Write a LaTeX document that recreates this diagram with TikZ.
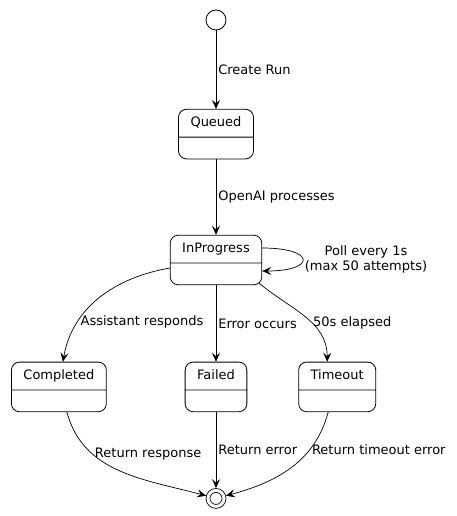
\documentclass[tikz,border=0pt]{standalone}
\usepackage{fontspec}
\setmainfont{DejaVu Sans}
\usetikzlibrary{positioning, arrows.meta, shapes.multipart}
\newcommand{\statefont}{\fontsize{13}{15}\selectfont}
\newcommand{\stname}[1]{\strut #1\nodepart{two}\rule{0pt}{9pt}}
\tikzset{
	statebox/.style={rectangle split, rectangle split parts=2, draw, rounded corners=8pt,
		inner xsep=12pt, inner ysep=6pt, line width=0.8pt, font=\statefont},
	initstate/.style={circle, draw, minimum size=20pt, inner sep=0pt, line width=0.8pt},
	finalstate/.style={circle, draw, double, double distance=3pt, minimum size=16pt,
		inner sep=0pt, outer sep=2.3pt, line width=0.8pt},
	trans/.style={-{Stealth[length=9pt, width=8pt, inset=3.5pt]}, line width=0.7pt},
	translabel/.style={font=\statefont, anchor=west, inner sep=2pt}
}

\begin{document}
\begin{tikzpicture}[node distance=76.5pt]
	\useasboundingbox (0,0) rectangle (457pt,-516pt);
	\node[initstate] (start) at (216pt,-20pt) {};
	\node[statebox, below=78.5pt of start] (queued) {\stname{Queued}};
	\node[statebox, below=75.5pt of queued] (inprogress) {\stname{InProgress}};
	\node[statebox, below=of inprogress] (failed) {\stname{Failed}};
	\node[statebox, left=78pt of failed] (completed) {\stname{Completed}};
	\node[statebox, right=51pt of failed] (timeout) {\stname{Timeout}};
	\node[finalstate, below=76pt of failed] (end) {};
	\draw[trans] (start) -- node[translabel] {Create Run} (queued);
	\draw[trans] (queued) -- node[translabel] {OpenAI processes} (inprogress);
	\draw[trans] ([yshift=12pt]inprogress.east) to[out=0, in=0, looseness=6]
		node[translabel, align=center] {Poll every 1s\\(max 50 attempts)} ([yshift=-11pt]inprogress.east);
	\draw[trans] ([yshift=-8pt]inprogress.west) to[out=190, in=80]
		node[translabel, pos=0.72] {Assistant responds} ([xshift=4pt]completed.north);
	\draw[trans] (inprogress) -- node[translabel] {Error occurs} (failed);
	\draw[trans] ([shift={(-3pt,2pt)}]inprogress.south east) to[out=-40, in=90]
		node[translabel, pos=0.58] {50s elapsed} ([xshift=-10pt]timeout.north);
	\draw[trans] ([xshift=8pt]completed.south) to[out=-75, in=165]
		node[translabel, pos=0.3] {Return response} (end);
	\draw[trans] (failed) -- node[translabel] {Return error} (end);
	\draw[trans] ([xshift=-9pt]timeout.south) to[out=-105, in=15]
		node[translabel, pos=0.3] {Return timeout error} (end);
\end{tikzpicture}
\end{document}
